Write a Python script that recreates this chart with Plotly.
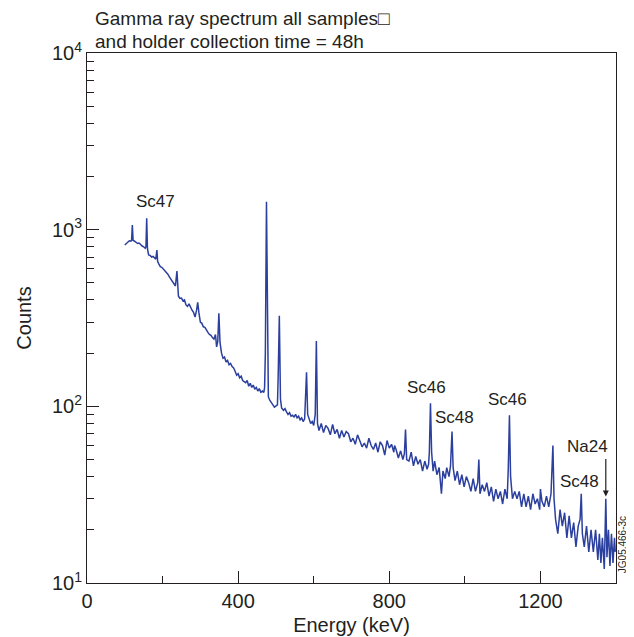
import plotly.graph_objects as go

# spectrum (energy in keV, counts)
energy = [
    100, 104, 108, 112, 116, 118, 120, 122, 126, 130, 134, 138, 142, 146, 150, 154, 156, 158, 160,
    163, 167, 171, 175, 178, 182, 185, 187, 190, 194, 198, 202, 206, 210, 214, 218, 222, 226, 230,
    234, 238, 240, 242, 246, 250, 254, 258, 262, 266, 270, 274, 278, 282, 286, 290, 293, 296, 300,
    304, 308, 312, 316, 320, 324, 328, 332, 336, 340, 343, 346, 349, 352, 356, 360, 364, 368, 372,
    376, 380, 384, 388, 392, 396, 400, 404, 408, 412, 416, 420, 424, 428, 432, 436, 440, 444, 448,
    452, 456, 460, 464, 468, 470, 472, 475, 478, 480, 484, 488, 492, 496, 500, 504, 506, 509, 512,
    515, 520, 524, 528, 532, 536, 540, 544, 548, 552, 556, 560, 564, 568, 572, 576, 578, 581, 584,
    588, 592, 596, 600, 604, 607, 610, 614, 620, 626, 632, 638, 644, 650, 656, 662, 668, 674, 680,
    686, 692, 698, 704, 710, 716, 722, 728, 734, 740, 746, 752, 758, 764, 770, 776, 782, 788, 794,
    800, 806, 812, 814, 818, 824, 830, 836, 840, 843, 846, 852, 858, 864, 870, 876, 882, 888, 894,
    900, 904, 906, 909, 912, 916, 920, 926, 932, 938, 942, 948, 952, 958, 962, 966, 969, 974, 980,
    986, 992, 998, 1004, 1010, 1016, 1022, 1028, 1034, 1037, 1040, 1046, 1052, 1058, 1064, 1070,
    1076, 1082, 1088, 1094, 1100, 1106, 1112, 1115, 1118, 1121, 1126, 1132, 1138, 1144, 1150, 1156,
    1162, 1168, 1174, 1180, 1186, 1192, 1198, 1200, 1204, 1210, 1216, 1222, 1228, 1233, 1236, 1240,
    1246, 1252, 1258, 1264, 1270, 1276, 1282, 1288, 1294, 1300, 1305, 1308, 1311, 1316, 1322, 1328,
    1334, 1340, 1346, 1352, 1356, 1360, 1364, 1369, 1373, 1376, 1380, 1384, 1388, 1392, 1396, 1398,
]
counts = [
    818, 830, 850, 865, 860, 870, 1062, 870, 860, 850, 835, 840, 820, 808, 800, 785, 800, 1159, 780,
    720, 715, 700, 705, 690, 680, 767, 660, 640, 617, 612, 600, 585, 578, 560, 540, 525, 510, 495,
    480, 583, 470, 420, 408, 410, 395, 400, 375, 368, 380, 360, 350, 340, 320, 350, 388, 340, 300,
    295, 282, 280, 268, 262, 255, 252, 245, 240, 255, 217, 232, 336, 230, 200, 187, 190, 178, 182,
    172, 175, 168, 165, 158, 150, 153, 145, 148, 140, 138, 136, 140, 130, 135, 128, 132, 125, 128,
    122, 126, 120, 122, 120, 128, 200, 1439, 200, 113, 108, 104, 102, 99, 100, 102, 150, 326, 110,
    98, 95, 97, 93, 90, 92, 88, 89, 87, 90, 86, 88, 84, 86, 82, 85, 120, 156, 90,
    84, 80, 82, 78, 90, 234, 80, 73, 80, 71, 78, 75, 69, 79, 70, 74, 66, 73, 67,
    72, 70, 63, 66, 61, 69, 64, 59, 62, 58, 66, 60, 57, 62, 55, 63, 60, 53, 64,
    58, 61, 55, 60, 57, 51, 56, 50, 54, 74, 50, 49, 55, 46, 52, 47, 50, 43, 49,
    44, 47, 55, 104, 55, 43, 49, 41, 45, 32, 43, 39, 45, 40, 46, 72, 45, 38, 43,
    36, 41, 35, 40, 37, 33, 39, 33, 37, 50, 32, 36, 33, 37, 31, 35,
    29, 34, 30, 33, 28, 34, 30, 45, 89, 40, 30, 33, 30, 33, 27, 32,
    27, 31, 26, 32, 28, 30, 26, 34, 29, 27, 31, 27, 32, 60, 30, 23,
    19, 26, 21, 25, 18, 24, 18, 22, 16, 21, 23, 32, 19, 16, 21, 15,
    20, 15, 20, 13.5, 19, 13, 18, 12, 30, 14, 20, 12.5, 19, 13, 18, 15,
]

x_ticks = [0, 400, 800, 1200]
y_ticks = [10, 100, 1000, 10000]
y_tick_text = ["10<sup>1</sup>", "10<sup>2</sup>", "10<sup>3</sup>", "10<sup>4</sup>"]

# peak labels: (text, energy, log10 counts of label centre)
labels = [
    ("Sc47", 180, 3.162),
    ("Sc46", 899, 2.104),
    ("Sc48", 973, 1.939),
    ("Sc46", 1113, 2.041),
    ("Na24", 1324, 1.775),
    ("Sc48", 1303, 1.572),
]

font = "Liberation Sans, Arial, Helvetica, sans-serif"
ink = "#231f20"
blue = "#2b3f9e"

fig = go.Figure()
fig.add_trace(go.Scatter(x=energy, y=counts, mode="lines",
                         line=dict(color=blue, width=1.5), showlegend=False))

for txt, ex, ly in labels:
    fig.add_annotation(x=ex, y=ly, text=txt, showarrow=False,
                       font=dict(size=17, color=ink, family=font))

# Na24 arrow
fig.add_annotation(x=1373, y=1.49, ax=0, ay=-39, text="", showarrow=True,
                   arrowhead=2, arrowsize=1, arrowwidth=1.2, arrowcolor=ink)

# two-line title
fig.add_annotation(xref="paper", yref="paper", x=0.011, y=1.066, xanchor="left",
                   yanchor="middle", showarrow=False,
                   text="Gamma ray spectrum all samples\u25a1",
                   font=dict(size=19, color=ink, family=font))
fig.add_annotation(xref="paper", yref="paper", x=0.011, y=1.021, xanchor="left",
                   yanchor="middle", showarrow=False,
                   text="and holder collection time = 48h",
                   font=dict(size=19, color=ink, family=font))

# figure reference on the right edge
fig.add_annotation(xref="paper", yref="paper", x=1.012, y=0.072, textangle=-90,
                   xanchor="center", yanchor="middle", showarrow=False,
                   text="JG05.466-3c", font=dict(size=10, color=ink, family=font))

# the page body adds an 8 px margin, so the figure is sized 8 px smaller
fig.update_layout(
    width=626, height=629,
    margin=dict(l=79, r=18, t=45, b=54),
    paper_bgcolor="white", plot_bgcolor="white",
    font=dict(family=font, color=ink, size=20),
)
fig.update_xaxes(
    range=[0, 1400], tickvals=x_ticks, ticks="inside", ticklen=12,
    tickcolor=ink, showgrid=False, zeroline=False, automargin=False,
    showline=True, linecolor=ink, linewidth=1, mirror=True,
    tickfont=dict(size=20),
    title=dict(text="Energy (keV)", font=dict(size=20), standoff=6),
    minor=dict(tickvals=[200, 600, 1000], ticks="inside", ticklen=7, tickcolor=ink),
)
fig.update_yaxes(
    type="log", range=[1, 4], tickvals=y_ticks, ticktext=y_tick_text,
    ticks="inside", ticklen=12, tickcolor=ink, showgrid=False, zeroline=False,
    automargin=False,
    showline=True, linecolor=ink, linewidth=1, mirror=True,
    tickfont=dict(size=20),
    title=dict(text="Counts", font=dict(size=20), standoff=14),
    minor=dict(tickvals=[m * d for d in (10, 100, 1000) for m in range(2, 10)],
               ticks="inside", ticklen=7, tickcolor=ink),
)

fig.write_html("out.html")
